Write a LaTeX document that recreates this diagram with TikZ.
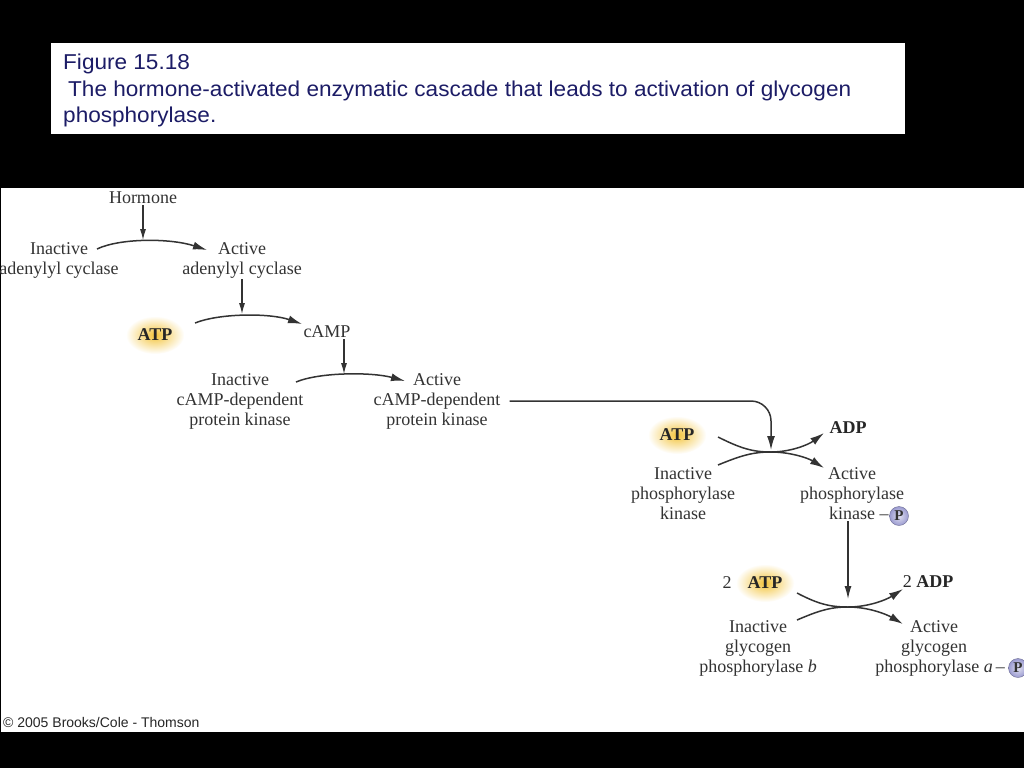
\documentclass[tikz,border=0pt]{standalone}
\usepackage{fontspec}
\setmainfont{Liberation Serif}
\setsansfont{Liberation Sans}
\newfontfamily\capfont[FakeStretch=1.05]{Liberation Sans}
\usetikzlibrary{arrows.meta,shapes.geometric}
\definecolor{ink}{HTML}{333333}
\definecolor{navy}{HTML}{1C1C66}
\definecolor{glow}{HTML}{F3C43C}
\definecolor{plav}{HTML}{9A9AD0}

\begin{document}
\begin{tikzpicture}[x=1pt,y=-1pt,
    txt/.style={text=ink,font=\fontsize{18}{20}\selectfont,align=center,inner sep=1pt},
    atp/.style={ellipse,minimum width=56pt,minimum height=38pt,inner color=glow,outer color=white,
      text=black!85,font=\fontsize{18}{20}\selectfont\bfseries},
    pcirc/.style={circle,draw=plav!70!black,inner color=plav!30,outer color=plav,minimum size=19pt,
      inner sep=0pt,font=\fontsize{15}{15}\selectfont\bfseries,text=black!80},
    reac/.style={draw=ink,line width=1.5pt,-{Latex[length=14pt,width=8pt]}},
    down/.style={draw=ink,line width=1.1pt,-{Latex[length=11pt,width=6pt]}}]
      \useasboundingbox (0,0) rectangle (1024,768);
      \fill[black] (0,0) rectangle (1024,768);
      \fill[white] (51,43) rectangle (905,134);
      \fill[white] (1,188) rectangle (1024,732);

      % caption
      \node[anchor=base west,inner sep=0,text=navy,font=\capfont\fontsize{21.5}{27}\selectfont] (fig) at (63,70) {Figure 15.18};
      \node[anchor=base west,inner sep=0,text=navy,font=\capfont\fontsize{21.5}{27}\selectfont] (cap) at (68,96) {The hormone-activated enzymatic cascade that leads to activation of glycogen};
      \node[anchor=base west,inner sep=0,text=navy,font=\capfont\fontsize{21.5}{27}\selectfont] (capend) at (63,122) {phosphorylase.};

      % adenylyl cyclase
      \node[txt] (hormone) at (143,198) {Hormone};
      \node[txt] (inAC) at (59,260) {Inactive\\adenylyl cyclase};
      \node[txt] (acAC) at (242,260) {Active\\adenylyl cyclase};
      \coordinate (c1s) at (97,249);
      \coordinate (c1e) at (207,250);
      \coordinate (h1) at (143,240);
      \draw[reac] (c1s) .. controls (120,238) and (170,238) .. (c1e);
      \draw[down] (hormone) -- (h1);

      % cAMP
      \node[atp] (atpA) at (155,335) {ATP};
      \node[txt] (camp) at (327,332) {cAMP};
      \coordinate (c2s) at (195,323);
      \coordinate (c2e) at (302,324);
      \coordinate (h2) at (242,314);
      \draw[reac] (c2s) .. controls (220,313) and (270,313) .. (c2e);
      \draw[down] (acAC) -- (h2);

      % protein kinase
      \node[txt] (inPKA) at (240,401) {Inactive\\cAMP-dependent\\protein kinase};
      \node[txt] (acPKA) at (437,401) {Active\\cAMP-dependent\\protein kinase};
      \coordinate (c3s) at (296,382);
      \coordinate (c3e) at (405,381);
      \coordinate (h3) at (344,374);
      \draw[reac] (c3s) .. controls (320,372) and (372,372) .. (c3e);
      \draw[down] (camp.south -| h3) -- (h3);

      % phosphorylase kinase
      \node[atp] (atpB) at (677,435) {ATP};
      \node[txt,font=\fontsize{18}{20}\selectfont\bfseries,text=black!85] (adpB) at (848,428) {ADP};
      \node[txt] (inPK) at (683,494) {Inactive\\phosphorylase\\kinase};
      \node[txt] (acPK) at (852,494) {Active\\phosphorylase\\kinase\rlap{ –}};
      \node[pcirc] (pK) at (899,516) {P};
      \coordinate (x4) at (771,452);
      \coordinate (h4) at (771,450);
      \coordinate (a4s) at (718,437);
      \coordinate (a4e) at (824,433);
      \coordinate (b4s) at (718,465);
      \coordinate (b4e) at (824,468);
      \draw[reac,rounded corners=20pt] ([xshift=8pt]acPKA.east) -| (h4);
      \draw[reac] (a4s) .. controls (740,448) and (752,452) .. (x4) .. controls (790,452) and (808,445) .. (a4e);
      \draw[reac] (b4s) .. controls (740,456) and (752,452) .. (x4) .. controls (790,452) and (808,458) .. (b4e);

      % glycogen phosphorylase
      \node[txt] (num2) at (727,583) {2};
      \node[atp] (atpC) at (765,583) {ATP};
      \node[txt,text=black!85] (adpC) at (928,582) {2 \textbf{ADP}};
      \node[txt] (inGP) at (758,648) {Inactive\\glycogen\\phosphorylase \textit{b}};
      \node[txt] (acGP) at (934,648) {Active\\glycogen\\phosphorylase \textit{a}\rlap{\,–}};
      \node[pcirc] (pG) at (1018,668) {P};
      \coordinate (x5) at (848,607);
      \coordinate (h5) at (848,599);
      \coordinate (a5s) at (797,593);
      \coordinate (a5e) at (903,589);
      \coordinate (b5s) at (797,620);
      \coordinate (b5e) at (903,624);
      \draw[down,line width=1.3pt,-{Latex[length=13pt,width=7pt]}] (acPK.south -| h5) -- (h5);
      \draw[reac] (a5s) .. controls (818,604) and (830,607) .. (x5) .. controls (868,607) and (886,600) .. (a5e);
      \draw[reac] (b5s) .. controls (818,611) and (830,607) .. (x5) .. controls (868,607) and (886,614) .. (b5e);

      \node[anchor=base west,inner sep=0,text=black!85,font=\sffamily\fontsize{14}{14}\selectfont] (copy) at (3,727) {© 2005 Brooks/Cole - Thomson};
\end{tikzpicture}
\end{document}
